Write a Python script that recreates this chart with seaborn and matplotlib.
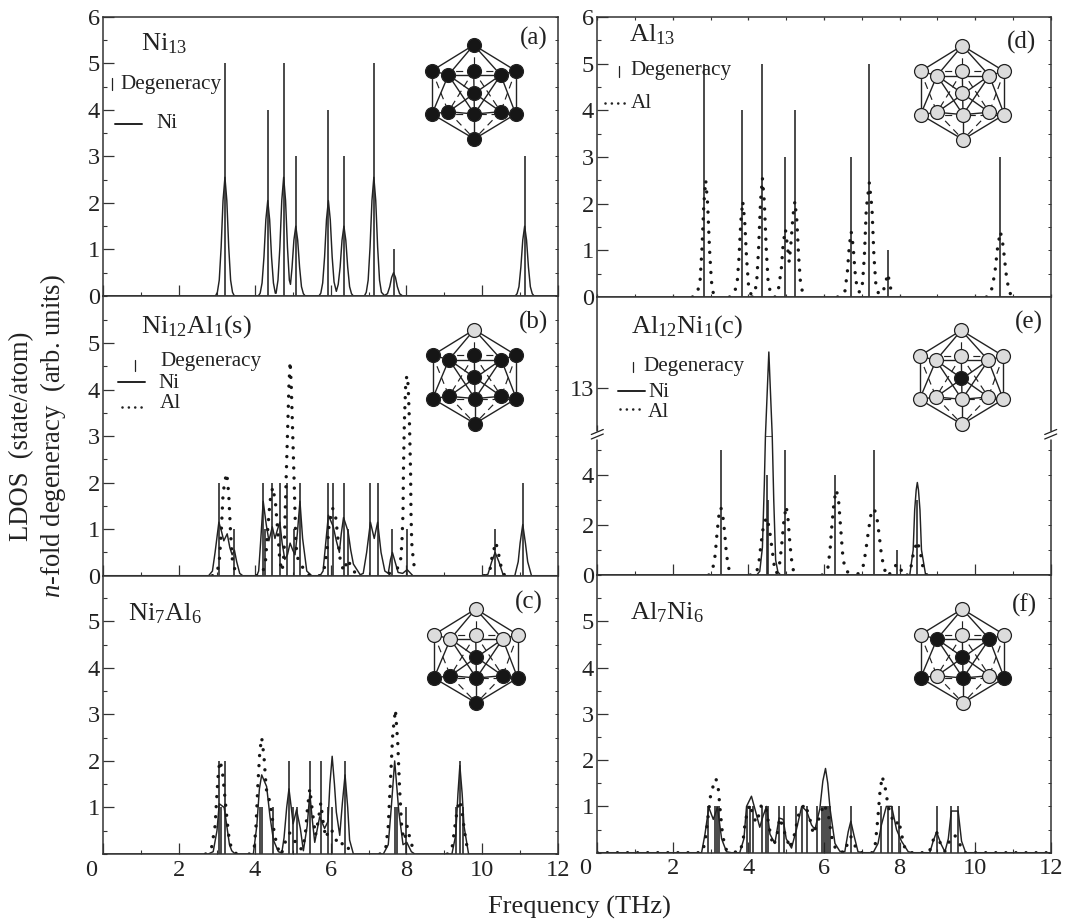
import matplotlib
matplotlib.use("Agg")
import matplotlib.pyplot as plt
import seaborn as sns
from matplotlib.ticker import MultipleLocator

sns.set_theme(style="ticks")
plt.rcParams.update({
    "font.family": ["Liberation Serif", "DejaVu Serif"],
    "mathtext.fontset": "custom",
    "mathtext.rm": "Liberation Serif",
    "mathtext.it": "Liberation Serif:italic",
    "mathtext.bf": "Liberation Serif:bold",
    "mathtext.default": "regular",
    "text.color": "#222222",
    "axes.edgecolor": "#333333",
    "xtick.color": "#333333",
    "ytick.color": "#333333",
    "xtick.labelcolor": "#222222",
    "ytick.labelcolor": "#222222",
})

INK = "#222222"
W, H = 1067, 922

# ---------- degeneracy sticks ----------
STICK_X_A = [3.21, 4.34, 4.76, 5.08, 5.94, 6.35, 7.14, 7.66, 11.12]
STICK_H_A = [5, 4, 5, 3, 4, 3, 5, 1, 3]
STICK_X_B = [3.05, 3.46, 4.22, 4.27, 4.46, 4.66, 4.84, 5.02, 5.19, 5.92, 6.05, 6.34, 6.46, 7.05, 7.24, 7.63, 8.02, 10.34, 11.07]
STICK_H_B = [2, 1, 2, 1, 2, 2, 2, 1, 2, 2, 2, 2, 1, 2, 2, 1, 1, 1, 2]
STICK_X_C = [3.05, 3.11, 3.21, 4.13, 4.18, 4.47, 4.9, 5.0, 5.1, 5.45, 5.74, 5.93, 6.04, 6.38, 7.69, 7.74, 8.0, 9.3, 9.41, 9.5]
STICK_H_C = [2, 1, 2, 1, 1, 1, 2, 1, 1, 2, 2, 1, 1, 2, 1, 1, 1, 1, 2, 1]
STICK_X_D = [2.82, 3.84, 4.37, 4.98, 5.23, 6.72, 7.2, 7.69, 10.67]
STICK_H_D = [5, 4, 5, 3, 4, 3, 5, 1, 3]
STICK_X_E = [3.27, 4.5, 4.53, 4.98, 6.3, 7.33, 7.94, 8.47]
STICK_H_E = [5, 4, 3, 5, 4, 5, 1, 3]
STICK_X_F = [2.94, 3.11, 3.18, 3.23, 3.95, 4.04, 4.13, 4.35, 4.46, 4.52, 4.81, 4.95, 5.27, 5.41, 5.54, 5.82,
             5.96, 6.0, 6.05, 6.1, 6.16, 6.71, 7.52, 7.7, 7.79, 7.98, 8.98, 9.37, 9.55]
STICK_H_F = [1] * len(STICK_X_F)

# ---------- Ni curves (x THz, LDOS) ----------
NI_A = [(0, 0), (2.96, 0), (3.01, .08), (3.06, .34), (3.11, 1.05), (3.16, 2.05), (3.21, 2.55), (3.26, 2.05), (3.31, 1.05),
        (3.36, .34), (3.41, .08), (3.46, 0), (4.09, 0), (4.14, .06), (4.19, .28), (4.24, .84), (4.29, 1.64), (4.34, 2.05),
        (4.39, 1.64), (4.44, .84), (4.49, .28), (4.54, .06), (4.56, .06), (4.61, .34), (4.66, 1.05), (4.71, 2.05), (4.76, 2.55),
        (4.81, 2.05), (4.86, 1.05), (4.91, .34), (4.94, .25), (4.98, .6), (5.03, 1.2), (5.08, 1.5), (5.13, 1.2), (5.18, .62),
        (5.23, .2), (5.28, .05), (5.33, 0), (5.69, 0), (5.74, .06), (5.79, .28), (5.84, .84), (5.89, 1.64), (5.94, 2.05),
        (5.99, 1.64), (6.04, .84), (6.09, .3), (6.15, .1), (6.2, .25), (6.25, .62), (6.3, 1.2), (6.35, 1.5), (6.4, 1.2),
        (6.45, .62), (6.5, .2), (6.55, .05), (6.6, 0), (6.89, 0), (6.94, .08), (6.99, .34), (7.04, 1.05), (7.09, 2.05),
        (7.14, 2.55), (7.19, 2.05), (7.24, 1.05), (7.29, .34), (7.34, .08), (7.42, .01), (7.5, .05), (7.56, .2), (7.61, .4),
        (7.66, .5), (7.71, .4), (7.76, .2), (7.82, .05), (7.9, 0), (10.87, 0), (10.92, .05), (10.97, .2), (11.02, .62),
        (11.07, 1.2), (11.12, 1.5), (11.17, 1.2), (11.22, .62), (11.27, .2), (11.32, .05), (11.37, 0), (12, 0)]
NI_B = [(0, 0), (2.78, 0), (2.88, .1), (2.95, .5), (3.05, 1.15), (3.12, .95), (3.18, .75), (3.27, .9), (3.34, .6), (3.4, .45),
        (3.46, .55), (3.52, .3), (3.6, .05), (3.68, 0), (4.05, 0), (4.1, .1), (4.15, .7), (4.22, 1.6), (4.3, 1.1), (4.37, .75),
        (4.46, 1.05), (4.53, .8), (4.6, 1.0), (4.66, 1.15), (4.72, .7), (4.79, .35), (4.86, .45), (4.93, .7), (5.0, .55), (5.06, .45),
        (5.12, .9), (5.19, 1.6), (5.26, .8), (5.37, .1), (5.5, 0), (5.72, 0), (5.8, .1), (5.87, .7), (5.94, 1.3), (6.07, 1.05),
        (6.15, .75), (6.23, .5), (6.28, .9), (6.34, 1.25), (6.46, .95), (6.53, .55), (6.6, .25), (6.78, .02), (6.86, .05),
        (6.95, .5), (7.05, 1.15), (7.15, .8), (7.24, 1.15), (7.33, .5), (7.43, .1), (7.52, .05), (7.58, .35), (7.63, .5), (7.7, .3),
        (7.78, .07), (7.9, .05), (8.02, .13), (8.17, 0), (10.0, 0), (10.15, .03), (10.25, .3), (10.34, .5), (10.44, .3), (10.56, 0),
        (10.86, 0), (10.95, .3), (11.0, .7), (11.07, 1.1), (11.14, .7), (11.2, .3), (11.3, 0), (12, 0)]
NI_C = [(0, 0), (2.77, 0), (2.9, .05), (3.0, .5), (3.06, 1.08), (3.19, 1.0), (3.26, .6), (3.33, .2), (3.39, .07), (3.48, 0),
        (3.96, 0), (4.05, .6), (4.12, 1.4), (4.18, 1.7), (4.31, 1.45), (4.4, .8), (4.49, .3), (4.62, .05), (4.71, .02), (4.77, .35),
        (4.84, 1.0), (4.9, 1.4), (4.96, 1.0), (5.01, .65), (5.1, .95), (5.2, .55), (5.28, .07), (5.38, .6), (5.45, 1.3), (5.52, .7),
        (5.58, .25), (5.71, .8), (5.84, .55), (5.93, .7), (5.98, 1.5), (6.04, 2.1), (6.1, 1.5), (6.15, .9), (6.24, .4), (6.31, 1.1),
        (6.38, 1.7), (6.45, 1.0), (6.5, .3), (6.6, 0), (7.39, 0), (7.52, .2), (7.6, 1.0), (7.69, 2.0), (7.8, .9), (7.91, .2),
        (8.01, .25), (8.13, .05), (8.22, 0), (9.2, 0), (9.3, .4), (9.36, 1.3), (9.41, 1.9), (9.47, 1.3), (9.52, .6), (9.64, 0), (12, 0)]
NI_E_LOW = [(0, 0), (4.22, 0), (4.3, .15), (4.37, 1.1), (4.42, 3.6), (4.45, 5.56), (4.63, 5.56), (4.67, 3.0), (4.72, .6),
            (4.78, .12), (4.85, 0), (8.27, 0), (8.36, 1.0), (8.4, 2.6), (8.44, 3.4), (8.47, 3.7), (8.5, 3.4), (8.54, 2.6),
            (8.58, 1.0), (8.69, 0), (12, 0)]
NI_E_UP = [(4.45, 11), (4.54, 14.5), (4.63, 11)]
NI_F = [(0, 0), (2.76, 0), (2.85, .4), (2.95, .98), (3.07, .72), (3.18, .98), (3.29, .3), (3.42, .02), (3.55, 0), (3.77, 0),
        (3.88, .3), (3.95, 1.0), (4.08, 1.22), (4.17, .95), (4.3, .55), (4.39, .8), (4.48, 1.0), (4.57, .4), (4.7, .2), (4.81, .75),
        (4.92, .72), (5.0, .3), (5.14, .1), (5.27, .5), (5.41, 1.0), (5.54, .9), (5.67, .6), (5.76, .5), (5.89, .95), (5.97, 1.55),
        (6.04, 1.82), (6.1, 1.5), (6.16, .95), (6.29, .2), (6.42, .03), (6.55, .02), (6.64, .45), (6.71, .68), (6.8, .35), (6.9, .02),
        (7.04, 0), (7.3, 0), (7.43, .2), (7.52, .6), (7.65, 1.0), (7.79, 1.0), (7.92, .5), (8.05, .25), (8.23, .02), (8.36, 0),
        (8.8, 0), (8.89, .25), (8.98, .45), (9.09, .2), (9.2, .02), (9.29, .3), (9.37, .9), (9.55, .9), (9.64, .25), (9.75, 0), (12, 0)]

# ---------- Al curves, one list per stretch ----------
AL_B = [
    [(2.88, 0), (3.0, .06), (3.06, .3), (3.11, .9), (3.16, 1.75), (3.21, 2.05), (3.26, 2.2), (3.31, 1.75), (3.36, .9), (3.41, .3), (3.5, .06), (3.6, 0)],
    [(4.05, 0), (4.2, .05), (4.28, .3), (4.34, 1.0), (4.4, 1.6), (4.47, 1.9), (4.54, 1.6), (4.6, 1.0), (4.66, .3), (4.72, .1), (4.76, .4), (4.78, .7),
     (4.8, 1.35), (4.83, 2.2), (4.87, 3.28), (4.9, 4.1), (4.93, 4.6), (4.96, 4.1), (4.99, 3.28), (5.03, 2.2), (5.06, 1.35), (5.08, .7), (5.12, .4),
     (5.2, .25), (5.35, .08), (5.45, 0)],
    [(5.7, 0), (5.82, .1), (5.9, .5), (5.96, 1.1), (6.05, 1.45), (6.12, 1.35), (6.18, .9), (6.24, .4), (6.34, .1), (6.46, .35), (6.55, .15), (6.7, .02)],
    [(7.55, .05), (7.7, .1), (7.8, .2), (7.84, .27), (7.88, .7), (7.91, 1.35), (7.92, 2.2), (7.945, 3.28), (7.98, 4.1), (8.01, 4.3), (8.045, 4.1),
     (8.08, 3.28), (8.11, 2.2), (8.12, 1.35), (8.14, .7), (8.19, .27), (8.25, .05)],
    [(10.05, 0), (10.2, .1), (10.27, .45), (10.36, .72), (10.45, .4), (10.52, .1), (10.6, 0)],
]
AL_C = [
    [(2.7, 0), (2.85, .1), (2.95, .6), (3.0, 1.3), (3.04, 1.8), (3.08, 2.0), (3.14, 1.8), (3.2, 1.3), (3.27, .7), (3.33, .25), (3.42, .08), (3.52, 0)],
    [(3.85, 0), (3.98, .1), (4.03, .6), (4.08, 1.5), (4.13, 2.2), (4.18, 2.5), (4.24, 2.1), (4.3, 1.4), (4.37, 1.2), (4.44, .9), (4.52, .4), (4.62, .1), (4.72, .02)],
    [(4.72, .05), (4.82, .3), (4.92, .45), (5.02, .35), (5.12, .15), (5.25, .1), (5.33, .4), (5.39, 1.0), (5.45, 1.4), (5.52, .9), (5.6, .4), (5.67, .7),
     (5.74, 1.1), (5.8, .7), (5.87, .35), (5.98, .55), (6.08, .45), (6.2, .18), (6.38, .25), (6.55, 0)],
    [(7.3, 0), (7.45, .1), (7.52, .6), (7.58, 1.6), (7.64, 2.6), (7.71, 3.1), (7.77, 2.4), (7.82, 1.4), (7.88, .5), (7.95, .3), (8.02, .6), (8.1, .3), (8.22, 0)],
    [(9.08, 0), (9.2, .1), (9.28, .6), (9.35, 1.0), (9.41, 1.15), (9.47, .9), (9.53, .5), (9.6, .15), (9.67, 0)],
]
AL_D = [
    [(2.52, 0), (2.65, .1), (2.72, .34), (2.77, 1.03), (2.82, 2.0), (2.87, 2.5), (2.92, 2.0), (2.97, 1.03), (3.02, .34), (3.07, .08), (3.13, 0)],
    [(3.5, 0), (3.62, .08), (3.7, .28), (3.75, .84), (3.8, 1.64), (3.85, 2.05), (3.9, 1.64), (3.95, .84), (4.0, .28), (4.07, .05), (4.1, 0)],
    [(4.1, 0), (4.17, .1), (4.22, .34), (4.27, 1.05), (4.32, 2.05), (4.37, 2.55), (4.42, 2.05), (4.47, 1.05), (4.52, .34), (4.58, .1), (4.7, 0)],
    [(4.7, 0), (4.8, .2), (4.87, .6), (4.92, 1.15), (4.98, 1.45), (5.03, 1.1), (5.08, .75), (5.13, 1.2), (5.18, 1.75), (5.23, 2.05), (5.28, 1.65),
     (5.33, .85), (5.38, .28), (5.45, .05)],
    [(6.36, 0), (6.55, .1), (6.62, .55), (6.67, 1.1), (6.72, 1.4), (6.77, 1.1), (6.82, .55), (6.88, .15), (6.95, .1), (7.02, .3), (7.07, .9), (7.12, 1.9),
     (7.2, 2.45), (7.27, 1.9), (7.32, .9), (7.37, .3), (7.44, .08), (7.55, .07), (7.62, .28), (7.69, .5), (7.74, .28), (7.8, .05)],
    [(10.3, 0), (10.42, .1), (10.52, .5), (10.6, 1.1), (10.67, 1.4), (10.74, 1.1), (10.82, .5), (10.9, .1), (11.02, 0)],
]
AL_E = [
    [(2.95, 0), (3.05, .2), (3.12, .8), (3.17, 1.7), (3.22, 2.4), (3.27, 2.7), (3.32, 2.4), (3.37, 1.7), (3.42, .8), (3.5, .1), (3.6, 0)],
    [(4.05, 0), (4.2, .05), (4.27, .4), (4.33, 1.2), (4.4, 2.0), (4.48, 2.3), (4.55, 1.9), (4.62, 1.1), (4.68, .4), (4.75, .1)],
    [(4.75, .1), (4.83, .5), (4.88, 1.2), (4.94, 2.2), (5.0, 2.75), (5.05, 2.2), (5.1, 1.2), (5.15, .5), (5.2, .1), (5.3, 0)],
    [(5.95, 0), (6.1, .25), (6.16, 1.0), (6.21, 2.0), (6.27, 3.0), (6.33, 3.4), (6.39, 2.9), (6.44, 1.9), (6.49, .9), (6.55, .25), (6.7, 0)],
    [(6.9, .05), (7.03, .3), (7.1, .9), (7.17, 1.7), (7.24, 2.4), (7.33, 2.65), (7.4, 2.3), (7.46, 1.6), (7.52, .8), (7.6, .2), (7.74, .05)],
    [(7.74, .05), (7.85, .3), (7.94, .45), (8.04, .2), (8.1, .05)],
    [(8.2, 0), (8.3, .3), (8.37, .9), (8.47, 1.35), (8.55, .9), (8.62, .3), (8.72, 0)],
]
AL_F = [
    [(0, 0), (2.76, 0), (2.85, .2), (2.92, .7), (3.0, 1.25), (3.07, 1.45), (3.14, 1.6), (3.2, 1.4), (3.26, .85), (3.32, .35), (3.42, .05), (3.75, 0),
     (3.85, .2), (3.92, .7), (4.04, 1.05), (4.14, .75), (4.22, .65), (4.35, 1.05), (4.47, .95), (4.56, .5), (4.65, .15), (4.74, .3), (4.83, .75), (4.95, .45),
     (5.1, .1), (5.22, .4), (5.35, .9), (5.5, 1.05), (5.62, .75), (5.72, .4), (5.85, .7), (6.0, 1.05), (6.12, .8), (6.2, .35), (6.32, .05), (6.55, 0),
     (6.62, .2), (6.71, .35), (6.82, .15), (6.95, 0), (7.28, 0), (7.36, .2), (7.42, .7), (7.48, 1.3), (7.54, 1.65), (7.62, 1.4), (7.7, 1.0), (7.8, .75),
     (7.9, .6), (7.98, .7), (8.05, .4), (8.14, .1), (8.3, 0), (8.78, 0), (8.88, .25), (8.98, .45), (9.08, .2), (9.2, .03), (9.32, .25), (9.46, .38),
     (9.58, .2), (9.72, 0), (12, 0)],
]

# ---------- axis labels and panel words ----------
XT_VALUES = [0, 2, 4, 6, 8, 10, 12]
XT_LABELS = ["0", "2", "4", "6", "8", "10", "12"]
X_TITLE = "Frequency (THz)"
Y_TITLE_1 = "LDOS  (state/atom)"
Y_TITLE_2 = r"$\mathit{n}$-fold degeneracy  (arb. units)"

fig = plt.figure(figsize=(W / 100, H / 100), dpi=100)


def make_ax(l, t, r, b, ylim):
    ax = fig.add_axes([l / W, 1 - b / H, (r - l) / W, (b - t) / H])
    ax.set_xlim(0, 12)
    ax.set_ylim(*ylim)
    for s in ax.spines.values():
        s.set_linewidth(1.1)
    ax.xaxis.set_major_locator(MultipleLocator(2))
    ax.xaxis.set_minor_locator(MultipleLocator(1))
    ax.yaxis.set_major_locator(MultipleLocator(1))
    ax.yaxis.set_minor_locator(MultipleLocator(.5))
    ax.tick_params(axis="both", which="major", direction="in", length=8, width=.9, labelsize=17.6, pad=2.5,
                   bottom=True, left=True, top=False, right=False)
    ax.tick_params(axis="both", which="minor", direction="in", length=3, width=.8, bottom=True, left=True, top=False, right=False)
    ax.tick_params(axis="x", labelbottom=False)
    return ax


def right_ticks(ax, ymax, step=.5):
    sec = ax.secondary_yaxis("right")
    sec.yaxis.set_major_locator(MultipleLocator(step))
    sec.tick_params(axis="y", which="major", direction="in", length=2.5, width=.7, labelright=False)
    sec.spines["right"].set_visible(False)


def solid(ax, pts):
    sns.lineplot(x=[p[0] for p in pts], y=[p[1] for p in pts], ax=ax, color=INK, linewidth=1.05,
                 estimator=None, sort=False, errorbar=None, legend=False)


def dotted(ax, segments):
    for seg in segments:
        sns.lineplot(x=[p[0] for p in seg], y=[p[1] for p in seg], ax=ax, color="#161616", linewidth=2.45,
                     linestyle=(0, (0.01, 2.95)), dash_capstyle="round",
                     estimator=None, sort=False, errorbar=None, legend=False)


def sticks(ax, xs, hs):
    ax.vlines(xs, 0, hs, color=INK, linewidth=1.15)


def finish(ax, ylim, yticks, xlabels=False):
    ax.set_xlim(0, 12)
    ax.set_ylim(*ylim)
    ax.set_xlabel("")
    ax.set_ylabel("")
    ax.set_yticks(yticks)
    ax.set_yticklabels([str(v) for v in yticks])
    if xlabels:
        ax.set_xticks(XT_VALUES)
        ax.tick_params(axis="x", labelbottom=True, pad=4)
        ax.set_xticklabels([""] + XT_LABELS[1:])
        ax.annotate(XT_LABELS[0], xy=(0, 0), xycoords="data", xytext=(-9, -4), textcoords="offset points",
                    ha="center", va="top", fontsize=17.6, color="#222222", annotation_clip=False)


LL, LR, RL, RR = 103.3, 558, 597.3, 1050.7

ax_a = make_ax(LL, 16.7, LR, 296, (0, 6))
sticks(ax_a, STICK_X_A, STICK_H_A); solid(ax_a, NI_A)
finish(ax_a, (0, 6), [0, 1, 2, 3, 4, 5, 6]); right_ticks(ax_a, 6)

ax_b = make_ax(LL, 296, LR, 575.7, (0, 6.01))
sticks(ax_b, STICK_X_B, STICK_H_B); solid(ax_b, NI_B); dotted(ax_b, AL_B)
finish(ax_b, (0, 6.01), [0, 1, 2, 3, 4, 5]); right_ticks(ax_b, 6)

ax_c = make_ax(LL, 575.7, LR, 854, (0, 5.98))
sticks(ax_c, STICK_X_C, STICK_H_C); solid(ax_c, NI_C); dotted(ax_c, AL_C)
finish(ax_c, (0, 5.98), [1, 2, 3, 4, 5], xlabels=True); right_ticks(ax_c, 6)

ax_d = make_ax(RL, 17, RR, 297, (0, 6))
sticks(ax_d, STICK_X_D, STICK_H_D); dotted(ax_d, AL_D)
finish(ax_d, (0, 6), [0, 1, 2, 3, 4, 5, 6]); right_ticks(ax_d, 6)
ax_d.tick_params(axis="x", which="both", top=True, length=2.5)
ax_d.tick_params(axis="x", which="major", bottom=True)

# panel (e) has a broken y axis: two stacked axes meeting at the break
BREAK_Y = 436
ax_e = make_ax(RL, BREAK_Y, RR, 575, (0, 5.56))
sticks(ax_e, STICK_X_E, STICK_H_E); solid(ax_e, NI_E_LOW); dotted(ax_e, AL_E)
finish(ax_e, (0, 5.56), [0, 2, 4])
ax_e.yaxis.set_minor_locator(MultipleLocator(1))
ax_e.spines["top"].set_visible(False)
right_ticks(ax_e, 5, 1)

ax_e2 = make_ax(RL, 296.8, RR, BREAK_Y, (11, 16.8))
solid(ax_e2, NI_E_UP)
finish(ax_e2, (11, 16.8), [13])
ax_e2.yaxis.set_minor_locator(MultipleLocator(100))
ax_e2.xaxis.set_major_locator(MultipleLocator(100))
ax_e2.xaxis.set_minor_locator(MultipleLocator(100))
ax_e2.spines["bottom"].set_visible(False)
ax_e2.set_xlim(0, 12)

ax_f = make_ax(RL, 575, RR, 852.7, (0, 6))
sticks(ax_f, STICK_X_F, STICK_H_F); solid(ax_f, NI_F); dotted(ax_f, AL_F)
finish(ax_f, (0, 6), [1, 2, 3, 4, 5], xlabels=True); right_ticks(ax_f, 6)

# ---------- overlay in pixel coordinates: words, keys, cluster sketches ----------
ov = fig.add_axes([0, 0, 1, 1], zorder=10)
ov.set_xlim(0, W)
ov.set_ylim(H, 0)
ov.axis("off")
ov.patch.set_alpha(0)

PANEL_TITLES = [(r"Ni$_{13}$", 141, 50), (r"Ni$_{12}$Al$_{1}$(s)", 141, 333), (r"Ni$_{7}$Al$_{6}$", 128, 620),
                (r"Al$_{13}$", 629, 41), (r"Al$_{12}$Ni$_{1}$(c)", 631, 333), (r"Al$_{7}$Ni$_{6}$", 630, 619)]
for t, x, y in PANEL_TITLES:
    ov.text(x, y, t, fontsize=19, ha="left", va="baseline")

PANEL_TAGS = [("(a)", 548, 38), ("(b)", 548, 322), ("(c)", 543, 602), ("(d)", 1036, 42), ("(e)", 1043, 322), ("(f)", 1037, 605)]
for t, x, y in PANEL_TAGS:
    ov.text(x, y, t, fontsize=18, ha="right", va="center")

KEY_WORDS = [("Degeneracy", 120, 85), ("Ni", 156, 124),
             ("Degeneracy", 160, 361), ("Ni", 158, 383), ("Al", 160, 403),
             ("Degeneracy", 630, 71), ("Al", 631, 103),
             ("Degeneracy", 643, 366), ("Ni", 648, 392), ("Al", 648, 412)]
for t, x, y in KEY_WORDS:
    ov.text(x, y, t, fontsize=15.2, ha="left", va="center")

KEY_TICKS = [(112, 78, 90), (135, 360, 371), (619, 66, 77), (633, 362, 372)]
for x, y0, y1 in KEY_TICKS:
    ov.plot([x, x], [y0, y1], color=INK, lw=.9)
KEY_SOLID = [(115, 142, 124), (118, 145, 382), (618, 645, 391)]
for x0, x1, y in KEY_SOLID:
    ov.plot([x0, x1], [y, y], color=INK, lw=1.4)
KEY_DOTS = [(122, 146, 407), (605, 627, 103), (620, 642, 409)]
for x0, x1, y in KEY_DOTS:
    ov.plot([x0, x1], [y, y], color=INK, lw=1.9, linestyle=(0, (0.01, 2.4)), dash_capstyle="round")

ov.text(579, 907, X_TITLE, fontsize=19, ha="center", va="center")
ov.text(22, 436, Y_TITLE_1, fontsize=19.2, rotation=90, ha="center", va="center")
ov.text(53, 436, Y_TITLE_2, fontsize=19.2, rotation=90, ha="center", va="center")

# axis break marks on panel (e)
for bx in (RL, RR):
    ov.plot([bx, bx], [431, 439], color="white", lw=2.5, solid_capstyle="butt")
    for dy in (0, 4.5):
        ov.plot([bx - 6, bx + 6], [436.5 + dy - 2, 431.5 + dy - 2], color=INK, lw=.9)

# icosahedral cluster sketches
NODE = {"T": (0, -47.7), "UL": (-41.7, -22), "UIL": (-25.3, -17.7), "UC": (0, -22), "UIR": (27, -17.7), "UR": (42, -22),
        "C": (0, 0), "LL": (-41.7, 21.3), "LIL": (-25.3, 19), "LC": (.7, 21.3), "LIR": (27, 19), "LR": (42, 21.3), "B": (.7, 46.3)}
SOLID_EDGES = [("T", "UL"), ("T", "UIL"), ("T", "UIR"), ("T", "UR"), ("UL", "UIL"), ("UIL", "UIR"), ("UIR", "UR"),
               ("UL", "LL"), ("UR", "LR"), ("LL", "LIL"), ("LIL", "LC"), ("LC", "LIR"), ("LIR", "LR"), ("LL", "B"), ("LR", "B"),
               ("LC", "B"), ("UC", "LC"), ("UIL", "LC"), ("UIR", "LC"), ("UIL", "LL"), ("UIR", "LR"), ("UIL", "LIR"), ("UIR", "LIL")]
DASHED_EDGES = [("T", "UC"), ("UL", "UC"), ("UC", "UR"), ("UL", "LIL"), ("UR", "LIR"), ("UC", "LIL"), ("UC", "LIR"),
                ("LIL", "B"), ("LIR", "B"), ("LL", "LR")]
CLUSTERS = [
    (473.7, 92.7, []),
    (474.3, 377.3, ["T"]),
    (475.7, 656.7, ["T", "UL", "UIL", "UC", "UIR", "UR"]),
    (962.3, 93.3, list(NODE)),
    (961.3, 378, [k for k in NODE if k != "C"]),
    (962.3, 656.7, ["T", "UL", "UC", "UR", "LIL", "LIR", "B"]),
]
for cx, cy, light in CLUSTERS:
    for a, b in SOLID_EDGES:
        ov.plot([cx + NODE[a][0], cx + NODE[b][0]], [cy + NODE[a][1], cy + NODE[b][1]], color=INK, lw=1.0, zorder=2)
    for a, b in DASHED_EDGES:
        ov.plot([cx + NODE[a][0], cx + NODE[b][0]], [cy + NODE[a][1], cy + NODE[b][1]], color=INK, lw=.85,
                linestyle=(0, (6, 4)), zorder=2)
    for name, (dx, dy) in NODE.items():
        ov.scatter([cx + dx], [cy + dy], s=100, zorder=3, linewidths=.9, edgecolors=INK,
                   facecolors="#dcdcdc" if name in light else "#161616")

ov.set_xlim(0, W)
ov.set_ylim(H, 0)
fig.savefig("out.png", dpi=100, facecolor="white")
